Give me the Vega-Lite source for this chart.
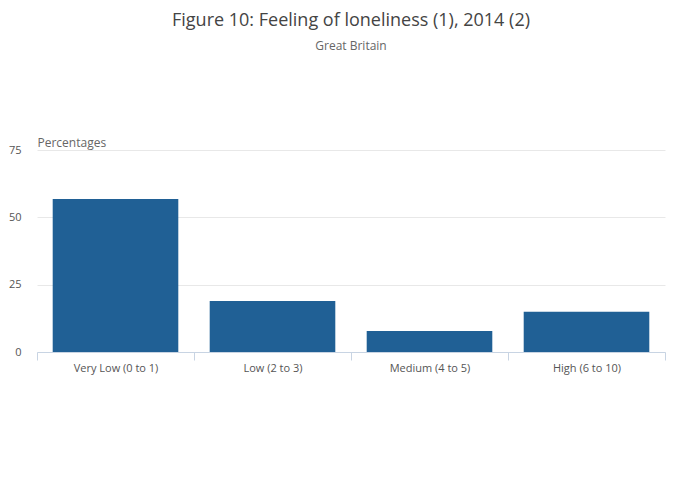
{
  "$schema": "https://vega.github.io/schema/vega-lite/v6.json",
  "width": 628,
  "height": 202,
  "autosize": {"type": "none"},
  "padding": {"left": 37, "top": 150, "right": 35, "bottom": 150},
  "background": "white",
  "title": {
    "text": "Figure 10: Feeling of loneliness (1), 2014 (2)",
    "subtitle": "Great Britain",
    "font": "Open Sans",
    "fontSize": 18,
    "fontWeight": "normal",
    "color": "#444444",
    "subtitleFont": "Open Sans",
    "subtitleFontSize": 12,
    "subtitleColor": "#666666",
    "subtitlePadding": 11,
    "anchor": "middle",
    "offset": 84
  },
  "data": {
    "values": [
      {"category": "Very Low (0 to 1)", "value": 56.8},
      {"category": "Low (2 to 3)", "value": 18.9},
      {"category": "Medium (4 to 5)", "value": 7.8},
      {"category": "High (6 to 10)", "value": 14.9}
    ]
  },
  "mark": {"type": "bar", "color": "#206095", "width": {"band": 0.8}},
  "encoding": {
    "x": {
      "field": "category",
      "type": "nominal",
      "sort": null,
      "scale": {"paddingInner": 0, "paddingOuter": 0},
      "axis": {
        "title": null,
        "labelAngle": 0,
        "labelFont": "Open Sans",
        "labelFontSize": 11,
        "labelColor": "#555555",
        "domainColor": "#c8d4e3",
        "tickColor": "#c8d4e3",
        "tickSize": 8,
        "tickBand": "extent",
        "labelPadding": 2,
        "grid": false
      }
    },
    "y": {
      "field": "value",
      "type": "quantitative",
      "scale": {"domain": [0, 75], "nice": false},
      "axis": {
        "values": [0, 25, 50, 75],
        "title": "Percentages",
        "titleAngle": 0,
        "titleX": 0,
        "titleY": -4,
        "titleAlign": "left",
        "titleBaseline": "alphabetic",
        "titleFont": "Open Sans",
        "titleFontSize": 12,
        "titleFontWeight": "normal",
        "titleColor": "#666666",
        "labelFont": "Open Sans",
        "labelFontSize": 11,
        "labelColor": "#555555",
        "labelPadding": 16,
        "domain": false,
        "ticks": false,
        "gridColor": "#e8e8e8"
      }
    }
  },
  "config": {"view": {"stroke": null}}
}
